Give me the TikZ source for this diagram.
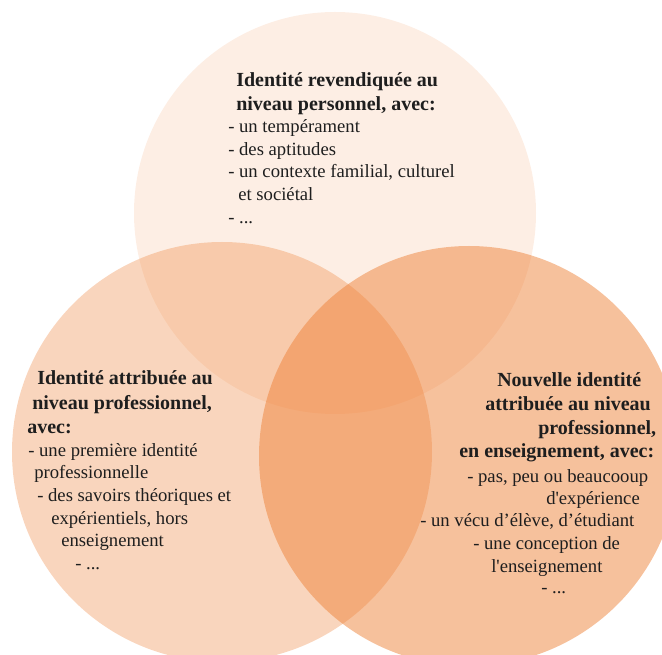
\documentclass[tikz,border=0pt]{standalone}
\usepackage{fontspec}
\setmainfont{Liberation Serif}
\definecolor{O}{RGB}{237,125,49}
\definecolor{txt}{RGB}{30,30,30}
\def\Wd{662}
\def\Ht{655}

\begin{document}
\begin{tikzpicture}[x=0.75pt,y=-0.75pt,
    head/.style={txt,anchor=base west,inner sep=0pt,font=\fontsize{15}{18}\selectfont\bfseries},
    item/.style={txt,anchor=base west,inner sep=0pt,font=\fontsize{14}{17}\selectfont}]
    \path[use as bounding box] (0,0) rectangle (\Wd,\Ht);
    \fill[O,fill opacity=0.13] (335,213) circle (201);
    \fill[O,fill opacity=0.32] (222,452) circle (210);
    \fill[O,fill opacity=0.48] (469,456) circle (210);
    % personnel
    \foreach \X/\Y/\L [count=\i] in {236/87/{Identité revendiquée au},236/111/{niveau personnel, avec:}}
        \node[head] (persoH\i) at (\X,\Y) {\L};
    \foreach \X/\Y/\L [count=\i] in {228/133/{- un tempérament},228/156/{- des aptitudes},228/178/{- un contexte familial, culturel},238/201/{et sociétal},228/224/{- ...}}
        \node[item] (perso\i) at (\X,\Y) {\L};
    % attribuee
    \foreach \X/\Y/\L [count=\i] in {37/385/{Identité attribuée au},32/410/{niveau professionnel,},27/434/{avec:}}
        \node[head] (attribH\i) at (\X,\Y) {\L};
    \foreach \X/\Y/\L [count=\i] in {28/457/{- une première identité},34/479/{professionnelle},37/502/{- des savoirs théoriques et},51/525/{expérientiels, hors},61/547/{enseignement},75/570/{- ...}}
        \node[item] (attrib\i) at (\X,\Y) {\L};
    % nouvelle
    \foreach \X/\Y/\L [count=\i] in {497/387/{Nouvelle identité},485/411/{attribuée au niveau},538/435/{professionnel,},459/458/{en enseignement, avec:}}
        \node[head] (nouvH\i) at (\X,\Y) {\L};
    \foreach \X/\Y/\L [count=\i] in {467/483/{- pas, peu ou beaucooup},546/505/{d\textquotesingle expérience},420/527/{- un vécu d’élève, d’étudiant},473/550/{- une conception de},491/573/{l\textquotesingle enseignement},541/594/{- ...}}
        \node[item] (nouv\i) at (\X,\Y) {\L};
\end{tikzpicture}
\end{document}
